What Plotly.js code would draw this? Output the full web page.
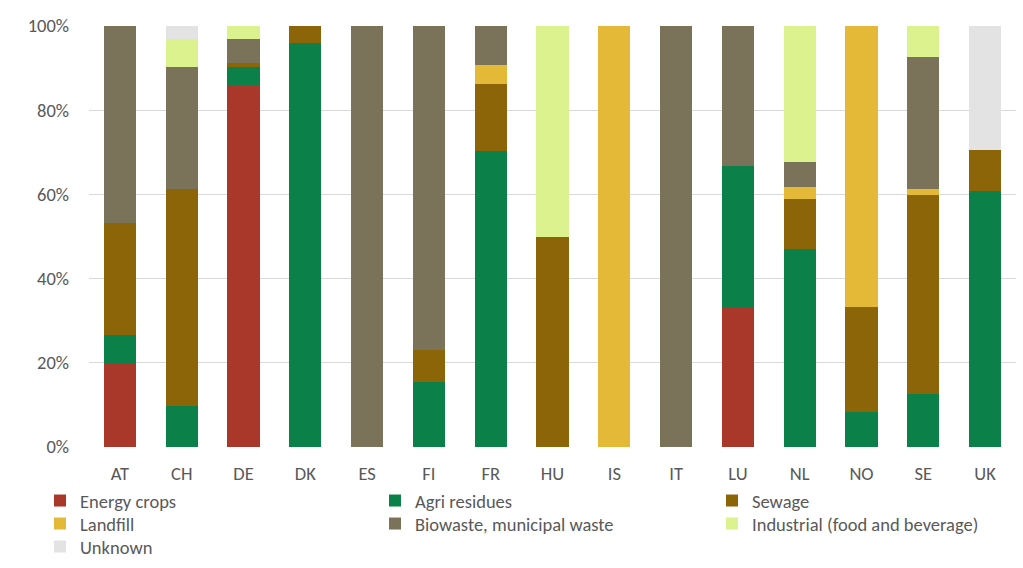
<!DOCTYPE html>
<html>
<head>
<meta charset="utf-8">
<script src="https://cdn.plot.ly/plotly-3.0.1.min.js"></script>
<style>html,body{margin:0;padding:0;background:#fff;}#chart{width:1023px;height:568px;}</style>
</head>
<body>
<div id="chart"></div>
<script>
const countries = ["AT","CH","DE","DK","ES","FI","FR","HU","IS","IT","LU","NL","NO","SE","UK"];
const seriesNames = ["Energy crops","Agri residues","Sewage","Landfill","Biowaste, municipal waste","Industrial (food and beverage)","Unknown"];
const energyCrops = [20.0, 0, 86.1, 0, 0, 0, 0, 0, 0, 0, 33.3, 0, 0, 0, 0];
const agriResidues = [6.7, 9.7, 4.1, 95.9, 0, 15.4, 70.4, 0, 0, 0, 33.4, 47.1, 8.3, 12.7, 60.7];
const sewage = [26.6, 51.6, 0.9, 4.1, 0, 7.7, 15.8, 50.0, 0, 0, 0, 11.8, 25.0, 47.2, 9.8];
const landfill = [0, 0, 0, 0, 0, 0, 4.6, 0, 100, 0, 0, 2.9, 66.7, 1.4, 0];
const biowaste = [46.7, 29.0, 5.7, 0, 100, 76.9, 9.2, 0, 0, 100, 33.3, 5.9, 0, 31.4, 0];
const industrial = [0, 6.5, 3.2, 0, 0, 0, 0, 50.0, 0, 0, 0, 32.3, 0, 7.3, 0];
const unknown = [0, 3.2, 0, 0, 0, 0, 0, 0, 0, 0, 0, 0, 0, 0, 29.5];
const yTickVals = [0, 20, 40, 60, 80, 100];
const yTickText = ["0%", "20%", "40%", "60%", "80%", "100%"];

const allSeries = [energyCrops, agriResidues, sewage, landfill, biowaste, industrial, unknown];
const colors = ["#A9372A", "#0B8048", "#8B6508", "#E3B937", "#7A735A", "#DCF28E", "#E3E3E3"];
const fontFam = "Carlito, Lato, 'Open Sans', sans-serif";
const fs = 18.5;

// plot geometry (px)
const W = 1023, H = 568;
const M = {l: 89, r: 7, t: 26, b: 121};
const plotW = W - M.l - M.r;
// legend grid: 3 columns, row-major
const colX = [40, 375, 712];
const rowTop = [482, 505, 528];

const traces = allSeries.map((vals, i) => ({
  type: "bar",
  name: seriesNames[i],
  x: countries,
  y: vals,
  legend: i === 0 ? "legend" : "legend" + (i + 1),
  marker: {color: colors[i], line: {width: 0}},
  hoverinfo: "x+y+name"
}));

const layout = {
  width: W, height: H,
  margin: M,
  barmode: "stack",
  bargap: 0.48,
  paper_bgcolor: "#fff",
  plot_bgcolor: "#fff",
  font: {family: fontFam, size: fs, color: "#595959"},
  xaxis: {
    type: "category",
    showgrid: false,
    zeroline: false,
    showline: false,
    ticks: "",
    ticklabelstandoff: 13,
    tickfont: {size: fs, color: "#595959"}
  },
  yaxis: {
    range: [0, 100],
    tickvals: yTickVals,
    ticktext: yTickText,
    showgrid: true,
    gridcolor: "#D9D9D9",
    gridwidth: 1,
    zeroline: false,
    showline: false,
    ticks: "",
    ticklabelstandoff: 19,
    tickfont: {size: fs, color: "#595959"}
  },
  showlegend: true
};

seriesNames.forEach((n, i) => {
  const id = i === 0 ? "legend" : "legend" + (i + 1);
  const col = i % 3, row = Math.floor(i / 3);
  layout[id] = {
    xref: "paper",
    x: (colX[col] - M.l) / plotW, xanchor: "left",
    yref: "container",
    y: 1 - rowTop[row] / H, yanchor: "top",
    orientation: "v",
    traceorder: "normal",
    font: {size: fs, color: "#595959", family: fontFam},
    itemclick: false,
    bgcolor: "rgba(0,0,0,0)"
  };
});

Plotly.newPlot("chart", traces, layout, {displayModeBar: false, responsive: false});
</script>
</body>
</html>
